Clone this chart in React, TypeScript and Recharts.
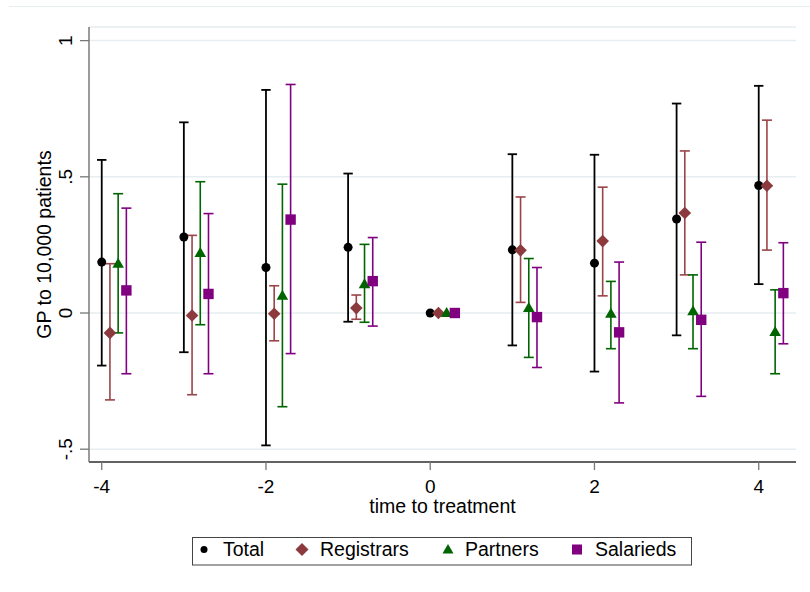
import React from "react";
import { ScatterChart, Scatter, XAxis, YAxis, CartesianGrid, ErrorBar } from "recharts";

// ---- data ----
const times = [-4, -3, -2, -1, 0, 1, 2, 3, 4];

const totalEst = [0.187, 0.279, 0.167, 0.241, 0, 0.232, 0.183, 0.345, 0.468];
const totalLo = [-0.193, -0.144, -0.486, -0.032, null, -0.119, -0.215, -0.082, 0.106];
const totalHi = [0.562, 0.7, 0.819, 0.512, null, 0.583, 0.581, 0.769, 0.834];

const regEst = [-0.073, -0.009, -0.003, 0.018, 0, 0.23, 0.264, 0.367, 0.467];
const regLo = [-0.319, -0.3, -0.102, -0.023, null, 0.039, 0.063, 0.14, 0.231];
const regHi = [0.181, 0.285, 0.1, 0.066, null, 0.426, 0.462, 0.595, 0.708];

const partEst = [0.181, 0.22, 0.063, 0.106, 0, 0.018, -0.003, 0.006, -0.07];
const partLo = [-0.073, -0.043, -0.344, -0.034, null, -0.163, -0.131, -0.131, -0.223];
const partHi = [0.438, 0.482, 0.473, 0.252, null, 0.2, 0.116, 0.14, 0.085];

const salEst = [0.083, 0.07, 0.343, 0.117, 0, -0.015, -0.071, -0.025, 0.073];
const salLo = [-0.223, -0.223, -0.149, -0.048, null, -0.2, -0.33, -0.306, -0.113];
const salHi = [0.385, 0.365, 0.839, 0.277, null, 0.167, 0.187, 0.26, 0.258];

const seriesNames = ["Total", "Registrars", "Partners", "Salarieds"];
const seriesOffsets = [0, 0.1, 0.2, 0.3];
const xTicks = [-4, -2, 0, 2, 4];
const yTicks = [-0.5, 0, 0.5, 1];
const xTitle = "time to treatment";
const yTitle = "GP to 10,000 patients";

const COLORS = ["#000000", "#8c3a3e", "#006400", "#800080"];
const FONT = "'Liberation Sans', Arial, sans-serif";

function build(est: number[], lo: (number | null)[], hi: (number | null)[], off: number) {
  return times.map((t, i) => ({
    x: t + off,
    y: est[i],
    err: lo[i] == null || hi[i] == null ? null : [est[i] - (lo[i] as number), (hi[i] as number) - est[i]],
  }));
}

const totalData = build(totalEst, totalLo, totalHi, seriesOffsets[0]);
const regData = build(regEst, regLo, regHi, seriesOffsets[1]);
const partData = build(partEst, partLo, partHi, seriesOffsets[2]);
const salData = build(salEst, salLo, salHi, seriesOffsets[3]);

const fmtY = (v: number) => {
  if (v === 0) return "0";
  const s = String(v);
  return s.replace(/^0\./, ".").replace(/^-0\./, "-.");
};

const CircleShape = (p: any) => <circle cx={p.cx} cy={p.cy} r={4.5} fill={COLORS[0]} />;
const DiamondShape = (p: any) => (
  <polygon
    points={`${p.cx},${p.cy - 6.3} ${p.cx + 6.3},${p.cy} ${p.cx},${p.cy + 6.3} ${p.cx - 6.3},${p.cy}`}
    fill={COLORS[1]}
  />
);
const TriangleShape = (p: any) => (
  <polygon
    points={`${p.cx},${p.cy - 6} ${p.cx + 5.8},${p.cy + 4} ${p.cx - 5.8},${p.cy + 4}`}
    fill={COLORS[2]}
  />
);
const SquareShape = (p: any) => <rect x={p.cx - 5.2} y={p.cy - 5.2} width={10.4} height={10.4} fill={COLORS[3]} />;

const YTick = (props: any) => {
  const { y, payload } = props;
  return (
    <text
      x={72}
      y={y}
      transform={`rotate(-90, 72, ${y})`}
      textAnchor="middle"
      fontSize={19}
      fontFamily={FONT}
      fill="#000"
    >
      {fmtY(payload.value)}
    </text>
  );
};

const XTick = (props: any) => {
  const { x, payload } = props;
  return (
    <text x={x} y={493} textAnchor="middle" fontSize={19} fontFamily={FONT} fill="#000">
      {payload.value}
    </text>
  );
};

const legendX = [204, 302, 448, 577];
const legendTextX = [223, 320, 465, 595];

export default function App() {
  return (
    <div style={{ position: "absolute", left: 0, top: 0, width: 810, height: 592, background: "#fff" }}>
      <div style={{ position: "absolute", left: 9, top: 6, width: 801, height: 1, background: "#e8eef0" }} />
      <ScatterChart width={810} height={592} margin={{ top: 27, right: 14, left: 0, bottom: 0 }}>
        <CartesianGrid vertical={false} stroke="#e6eef1" strokeWidth={1.5} />
        <XAxis
          type="number"
          dataKey="x"
          domain={[-4.155, 4.454]}
          ticks={xTicks}
          allowDataOverflow
          height={130}
          axisLine={{ stroke: "#333", strokeWidth: 1.3 }}
          tickLine={{ stroke: "#777", strokeWidth: 1.3 }}
          tickSize={8}
          tick={<XTick />}
          label={{
            content: () => (
              <text x={442.5} y={512.5} textAnchor="middle" fontSize={19.5} fontFamily={FONT} fill="#000">
                {xTitle}
              </text>
            ),
          }}
        />
        <YAxis
          type="number"
          dataKey="y"
          domain={[-0.547, 1.05]}
          ticks={yTicks}
          allowDataOverflow
          width={89}
          axisLine={{ stroke: "#666", strokeWidth: 1.3 }}
          tickLine={{ stroke: "#777", strokeWidth: 1.3 }}
          tickSize={9}
          tick={<YTick />}
          label={{
            content: () => (
              <text
                x={51}
                y={244.5}
                transform="rotate(-90, 51, 244.5)"
                textAnchor="middle"
                fontSize={19.5}
                fontFamily={FONT}
                fill="#000"
              >
                {yTitle}
              </text>
            ),
          }}
        />
        <Scatter name={seriesNames[0]} data={totalData} shape={CircleShape} isAnimationActive={false}>
          <ErrorBar dataKey="err" direction="y" width={4.7} stroke={COLORS[0]} strokeWidth={1.8} />
        </Scatter>
        <Scatter name={seriesNames[1]} data={regData} shape={DiamondShape} isAnimationActive={false}>
          <ErrorBar dataKey="err" direction="y" width={5} stroke="#9a4448" strokeWidth={1.6} />
        </Scatter>
        <Scatter name={seriesNames[2]} data={partData} shape={TriangleShape} isAnimationActive={false}>
          <ErrorBar dataKey="err" direction="y" width={5} stroke={COLORS[2]} strokeWidth={1.6} />
        </Scatter>
        <Scatter name={seriesNames[3]} data={salData} shape={SquareShape} isAnimationActive={false}>
          <ErrorBar dataKey="err" direction="y" width={5} stroke={COLORS[3]} strokeWidth={1.6} />
        </Scatter>
      </ScatterChart>
      <svg style={{ position: "absolute", left: 0, top: 0 }} width={810} height={592} pointerEvents="none">
        <rect x={192.5} y={537.5} width={499} height={27.5} fill="#fff" stroke="#444" strokeWidth={1} />
        <circle cx={legendX[0]} cy={549.5} r={3.5} fill={COLORS[0]} />
        <polygon
          points={`${legendX[1]},${549.5 - 6.5} ${legendX[1] + 6.5},549.5 ${legendX[1]},${549.5 + 6.5} ${legendX[1] - 6.5},549.5`}
          fill={COLORS[1]}
        />
        <polygon
          points={`${legendX[2]},${549.5 - 5.5} ${legendX[2] + 5.5},${549.5 + 4} ${legendX[2] - 5.5},${549.5 + 4}`}
          fill={COLORS[2]}
        />
        <rect x={legendX[3] - 5} y={549.5 - 5} width={10} height={10} fill={COLORS[3]} />
        {seriesNames.map((n, i) => (
          <text key={n} x={legendTextX[i]} y={555.5} fontSize={19.5} fontFamily={FONT} fill="#000">
            {n}
          </text>
        ))}
      </svg>
    </div>
  );
}
